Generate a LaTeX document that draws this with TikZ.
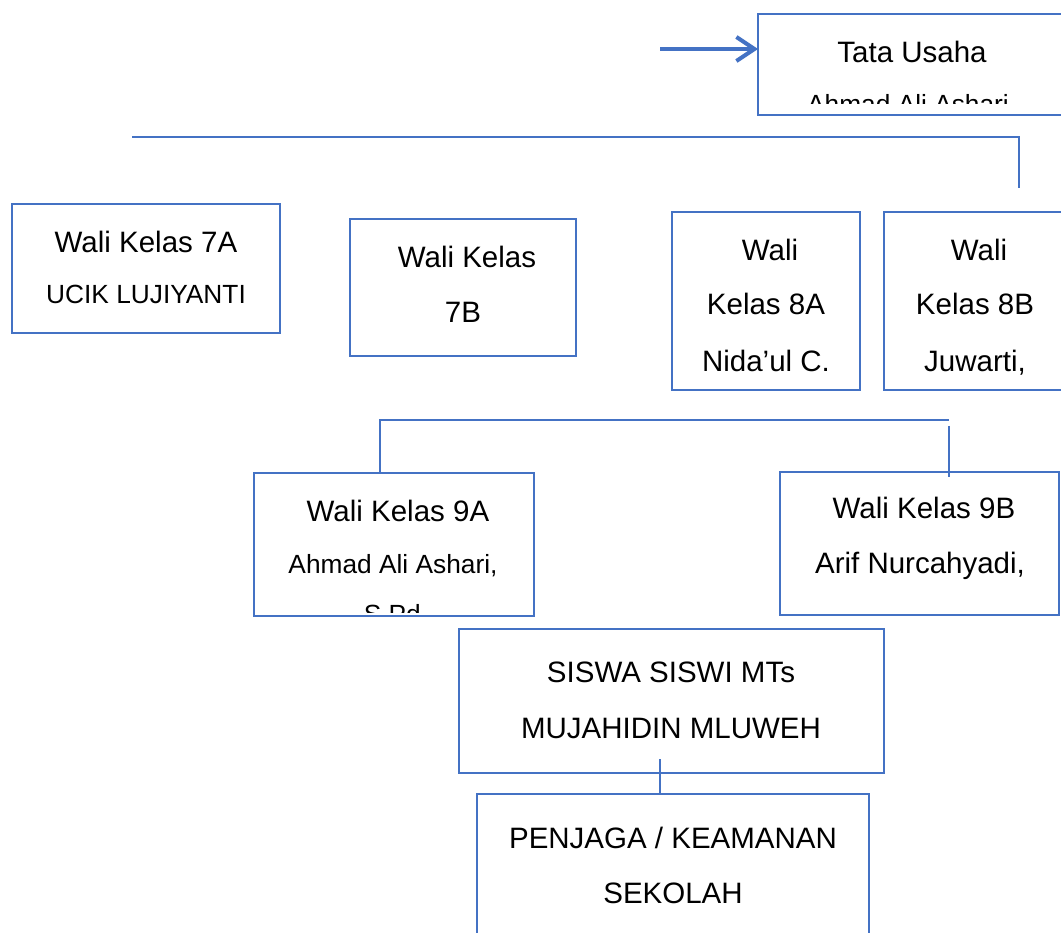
\documentclass[tikz,border=0pt]{standalone}
\usepackage{fontspec}
\setmainfont{Liberation Sans}
\usetikzlibrary{arrows.meta}
\definecolor{obl}{HTML}{4472C4}
\begin{document}
\begin{tikzpicture}[x=1pt,y=-1pt,
  box/.style={draw=obl,line width=2.8pt,inner sep=0pt,outer sep=0pt,fill=none},
  conn/.style={draw=obl,line width=2.4pt},
  big/.style={anchor=base,inner sep=0pt,font=\fontsize{29.5pt}{34pt}\selectfont},
  small/.style={anchor=base,inner sep=0pt,font=\fontsize{26.3pt}{31pt}\selectfont}]
\useasboundingbox (0,0) rectangle (1061,933);
\clip (0,0) rectangle (1061,933);
\fill[white] (0,0) rectangle (1061,933);
% boxes
\node[box,minimum width=305pt,minimum height=101pt] (tu) at (910.5,64.5) {};
\node[box,minimum width=268pt,minimum height=129pt] (w7a) at (146,268.5) {};
\node[box,minimum width=226pt,minimum height=137pt] (w7b) at (463,287.5) {};
\node[box,minimum width=188pt,minimum height=178pt] (w8a) at (766,301) {};
\node[box,minimum width=180pt,minimum height=178pt] (w8b) at (974,301) {};
\node[box,minimum width=280pt,minimum height=143pt] (w9a) at (394,544.5) {};
\node[box,minimum width=279pt,minimum height=143pt] (w9b) at (919.5,543.5) {};
\node[box,minimum width=425pt,minimum height=144pt] (siswa) at (671.5,701) {};
\node[box,minimum width=392pt,minimum height=146pt] (penjaga) at (673,867) {};
% texts
\node[big] (tu1) at (912,63) {Tata Usaha};
\begin{scope}
\clip (760,16) rectangle (1061,104);
\node[small] (tu2) at (908,113.5) {Ahmad Ali Ashari};
\end{scope}
\node[big] (t7a1) at (146,253) {Wali Kelas 7A};
\node[small] (t7a2) at (146,304) {UCIK LUJIYANTI};
\node[big] (t7b1) at (467,268) {Wali Kelas};
\node[big] (t7b2) at (463,323) {7B};
\node[big] (t8a1) at (770,261) {Wali};
\node[big] (t8a2) at (766,315) {Kelas 8A};
\node[big] (t8a3) at (766,372) {Nida’ul C.};
\node[big] (t8b1) at (979,261) {Wali};
\node[big] (t8b2) at (975,315) {Kelas 8B};
\node[big] (t8b3) at (975,372) {Juwarti,};
\node[big] (t9a1) at (398,521) {Wali Kelas 9A};
\node[small] (t9a2) at (393,573) {Ahmad Ali Ashari,};
\begin{scope}
\clip (256,590) rectangle (532,612);
\node[small] (t9a3) at (396,623) {S.Pd.};
\end{scope}
\node[big] (t9b1) at (924,518) {Wali Kelas 9B};
\node[big] (t9b2) at (920,573) {Arif Nurcahyadi,};
\node[big] (ts1) at (671,682) {SISWA SISWI MTs};
\node[big] (ts2) at (671,738) {MUJAHIDIN MLUWEH};
\node[big] (tp1) at (673,848) {PENJAGA / KEAMANAN};
\node[big] (tp2) at (673,903) {SEKOLAH};
% connectors
\coordinate (a0) at (660,49);
\draw[obl,line width=4pt,-{Straight Barb[length=18pt,width=24pt,line width=4pt]}] (a0) -- (a0 -| tu.west);
\coordinate (h1s) at (132,137);
\coordinate (h1e) at (1019,137);
\coordinate (h1d) at (1019,188);
\draw[conn] (h1s) -- (h1e) -- (h1d);
\coordinate (h2l) at (380,420);
\coordinate (h2r) at (949,420);
\draw[conn] (w9a.north -| h2l) -- (h2l) -- (h2r);
\coordinate (v2t) at (949,426);
\coordinate (v2b) at (949,477);
\draw[conn] (v2t) -- (v2b);
\coordinate (sp) at (660,759);
\draw[conn] (sp) -- (sp |- penjaga.north);
\end{tikzpicture}
\end{document}
